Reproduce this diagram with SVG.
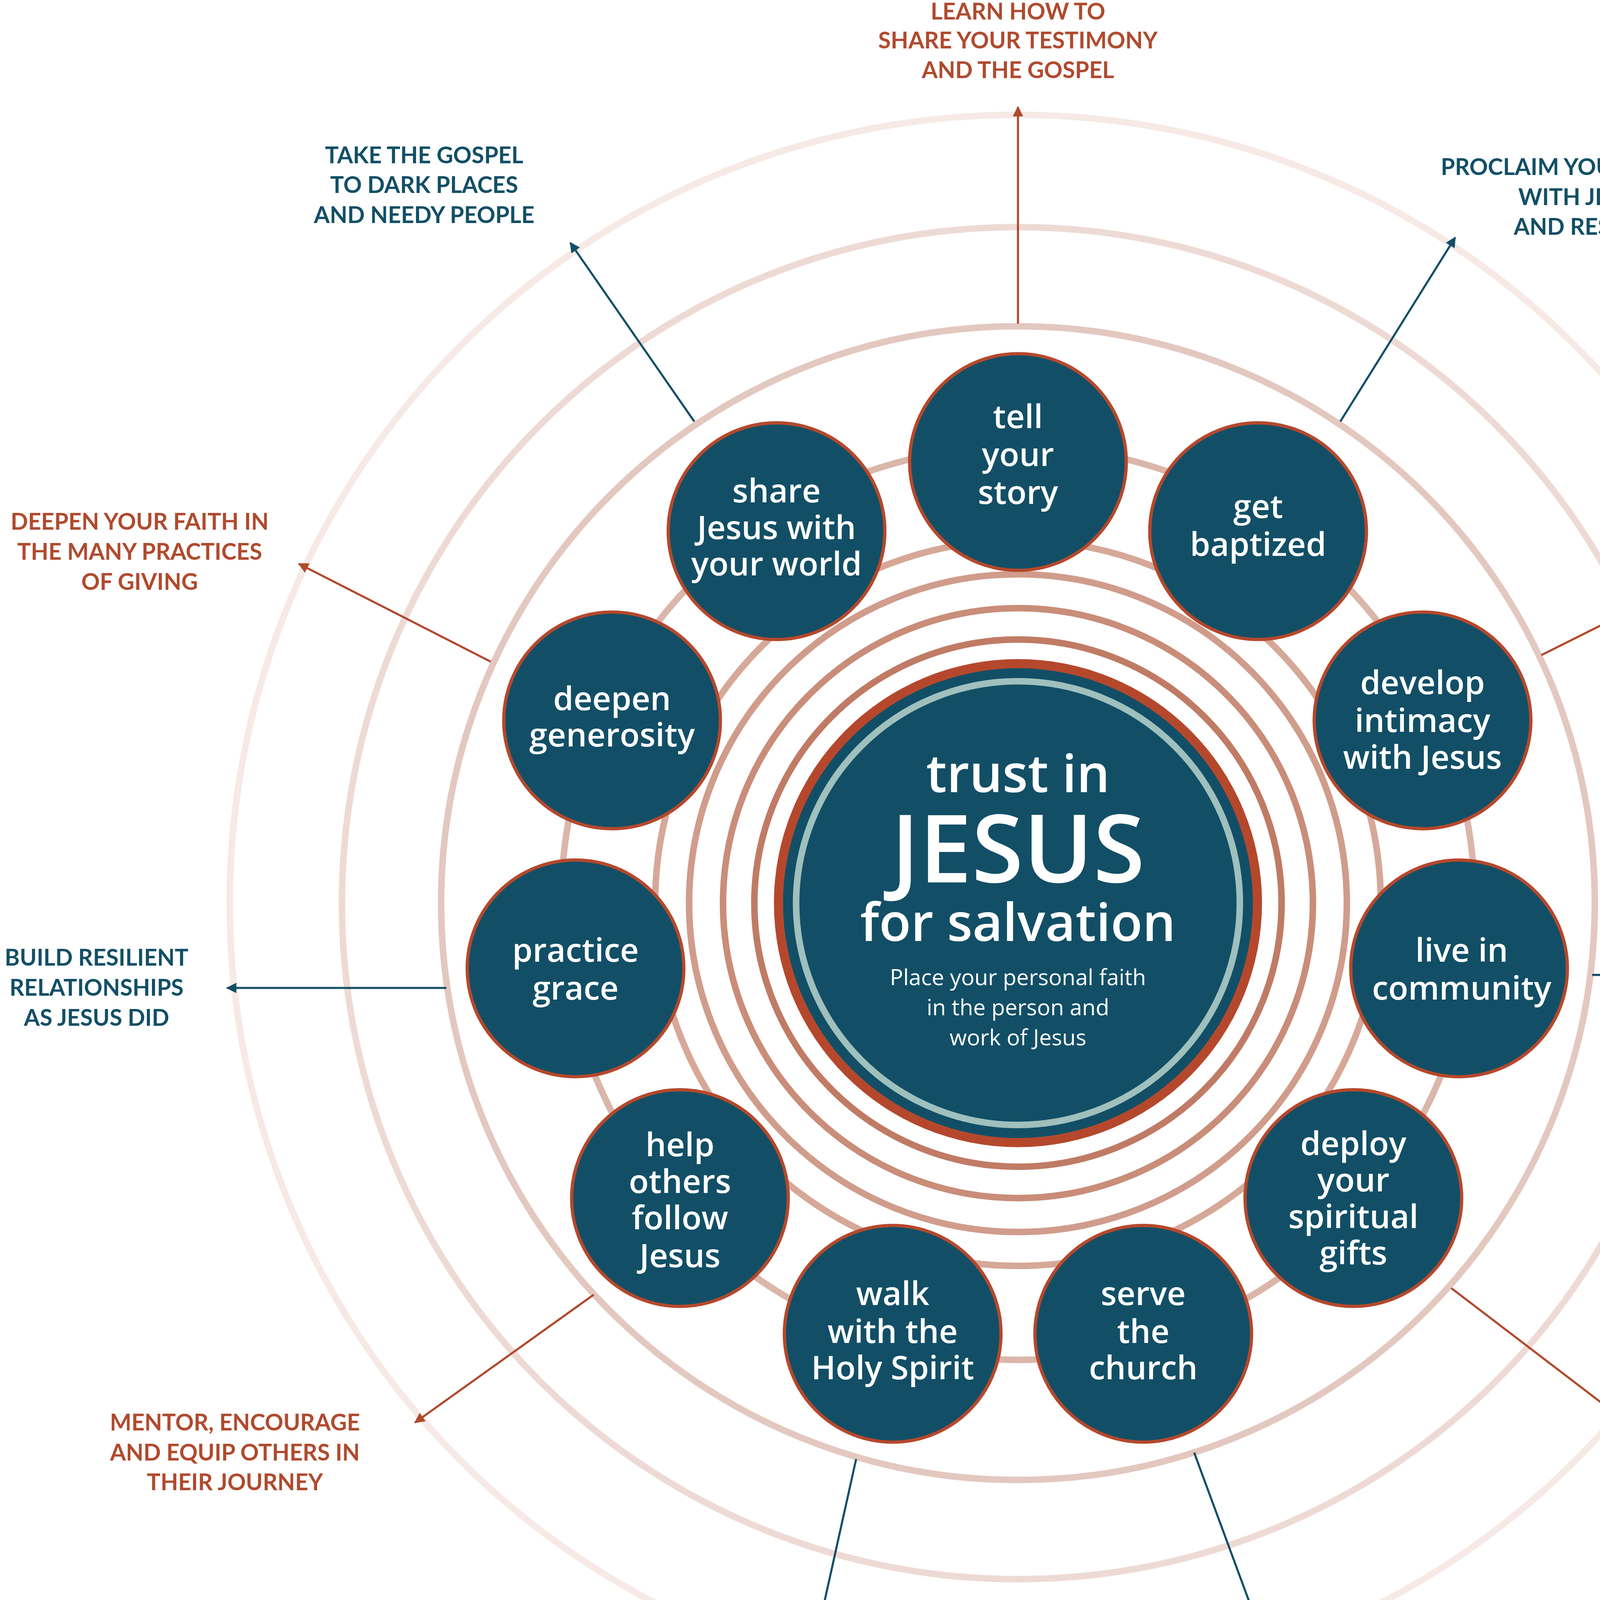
<svg xmlns="http://www.w3.org/2000/svg" width="5239" height="4628" viewBox="0 0 5239 4628">
<style>
.n{fill:#124f66;stroke:#b5482c;stroke-width:2.5}
.nt{font-family:"Open Sans",sans-serif;font-size:25px;font-weight:600;fill:#fff;text-anchor:middle}
.c1{font-size:40px}
.c2{font-size:72px}
.c3{font-size:17px;font-weight:400}
.lt{font-family:Lato,"Open Sans",sans-serif;font-size:17.5px;font-weight:700;text-anchor:middle}
.t{fill:#124f66}.r{fill:#b04a2e}
.ring{fill:none}
.at{stroke:#124f66;stroke-width:1.6;fill:none}
.ar{stroke:#b04a2e;stroke-width:1.6;fill:none}
</style>
<defs>
<marker id="mt" viewBox="0 0 10 10" refX="9" refY="5" markerWidth="8" markerHeight="8" markerUnits="userSpaceOnUse" orient="auto"><path d="M0,0 L10,5 L0,10 z" fill="#124f66"/></marker>
<marker id="mr" viewBox="0 0 10 10" refX="9" refY="5" markerWidth="8" markerHeight="8" markerUnits="userSpaceOnUse" orient="auto"><path d="M0,0 L10,5 L0,10 z" fill="#b04a2e"/></marker>
</defs>
<rect width="5239" height="4628" fill="#fff"/>
<g transform="scale(3.341)">
<g id="rings">
<circle class="ring" cx="780" cy="692" r="604" stroke="#f6e9e6" stroke-width="5"/>
<circle class="ring" cx="780" cy="692" r="518" stroke="#eedad5" stroke-width="5"/>
<circle class="ring" cx="780" cy="692" r="442" stroke="#e3c8c0" stroke-width="5"/>
<circle class="ring" cx="780" cy="692" r="350" stroke="#dbb6aa" stroke-width="5"/>
<circle class="ring" cx="780" cy="692" r="278" stroke="#d6a898" stroke-width="5"/>
<circle class="ring" cx="780" cy="692" r="252" stroke="#d09c8b" stroke-width="5"/>
<circle class="ring" cx="780" cy="692" r="226" stroke="#c98d79" stroke-width="5"/>
<circle class="ring" cx="780" cy="692" r="202" stroke="#c07b65" stroke-width="5"/>
</g>
<g id="center">
<circle cx="780" cy="692" r="187" fill="#b5482c"/>
<circle cx="780" cy="692" r="180" fill="#124f66"/>
<circle cx="780" cy="692" r="170" fill="none" stroke="#9fc0bd" stroke-width="5"/>
<text class="nt c1" x="780" y="607">trust in</text>
<text class="nt c2" x="780" y="676">JESUS</text>
<text class="nt c1" x="780" y="721">for salvation</text>
<text class="nt c3" x="780" y="755">Place your personal faith</text>
<text class="nt c3" x="780" y="778">in the person and</text>
<text class="nt c3" x="780" y="801">work of Jesus</text>
</g>
<g id="n1"><circle class="n" cx="780" cy="354" r="83"/><text class="nt" x="780" y="328">tell</text><text class="nt" x="780" y="357">your</text><text class="nt" x="780" y="386">story</text></g>
<g id="n2"><circle class="n" cx="964" cy="407" r="83"/><text class="nt" x="964" y="397">get</text><text class="nt" x="964" y="426">baptized</text></g>
<g id="n3"><circle class="n" cx="1090" cy="552" r="83"/><text class="nt" x="1090" y="532">develop</text><text class="nt" x="1090" y="561">intimacy</text><text class="nt" x="1090" y="589">with Jesus</text></g>
<g id="n4"><circle class="n" cx="1118" cy="742" r="83"/><text class="nt" x="1120" y="737">live in</text><text class="nt" x="1120" y="766">community</text></g>
<g id="n5"><circle class="n" cx="1037" cy="918" r="83"/><text class="nt" x="1037" y="885">deploy</text><text class="nt" x="1037" y="913">your</text><text class="nt" x="1037" y="941">spiritual</text><text class="nt" x="1037" y="969">gifts</text></g>
<g id="n6"><circle class="n" cx="876" cy="1022" r="83"/><text class="nt" x="876" y="1000">serve</text><text class="nt" x="876" y="1029">the</text><text class="nt" x="876" y="1057">church</text></g>
<g id="n7"><circle class="n" cx="684" cy="1022" r="83"/><text class="nt" x="684" y="1000">walk</text><text class="nt" x="684" y="1029">with the</text><text class="nt" x="684" y="1057">Holy Spirit</text></g>
<g id="n8"><circle class="n" cx="521" cy="918" r="83"/><text class="nt" x="521" y="886">help</text><text class="nt" x="521" y="914">others</text><text class="nt" x="521" y="942">follow</text><text class="nt" x="521" y="971">Jesus</text></g>
<g id="n9"><circle class="n" cx="441" cy="742" r="83"/><text class="nt" x="441" y="737">practice</text><text class="nt" x="441" y="766">grace</text></g>
<g id="n10"><circle class="n" cx="469" cy="552" r="83"/><text class="nt" x="469" y="544">deepen</text><text class="nt" x="469" y="572">generosity</text></g>
<g id="n11"><circle class="n" cx="595" cy="407" r="83"/><text class="nt" x="595" y="385">share</text><text class="nt" x="595" y="413">Jesus with</text><text class="nt" x="595" y="441">your world</text></g>
<g id="connectors">
<line class="ar" x1="780" y1="248" x2="780" y2="82" marker-end="url(#mr)"/>
<line class="at" x1="1027" y1="323" x2="1115" y2="182" marker-end="url(#mt)"/>
<line class="ar" x1="1181" y1="502" x2="1331" y2="427" marker-end="url(#mr)"/>
<line class="at" x1="1220" y1="747" x2="1387" y2="747" marker-end="url(#mt)"/>
<line class="ar" x1="1112" y1="987" x2="1243" y2="1087" marker-end="url(#mr)"/>
<line class="at" x1="915" y1="1113" x2="973" y2="1270" marker-end="url(#mt)"/>
<line class="at" x1="656" y1="1118" x2="620" y2="1280" marker-end="url(#mt)"/>
<line class="ar" x1="455" y1="992" x2="318" y2="1090" marker-end="url(#mr)"/>
<line class="at" x1="342" y1="757" x2="174" y2="757" marker-end="url(#mt)"/>
<line class="ar" x1="376" y1="507" x2="229" y2="432" marker-end="url(#mr)"/>
<line class="at" x1="532" y1="323" x2="437" y2="186" marker-end="url(#mt)"/>
</g>
<g id="labels">
<text class="lt r" x="780" y="15">LEARN HOW TO</text><text class="lt r" x="780" y="37">SHARE YOUR TESTIMONY</text><text class="lt r" x="780" y="60">AND THE GOSPEL</text>
<text class="lt t" x="1247" y="134">PROCLAIM YOUR IDENTIFICATION</text><text class="lt t" x="1247" y="157">WITH JESUS’ DEATH</text><text class="lt t" x="1247" y="180">AND RESURRECTION</text>
<text class="lt r" x="1440" y="394">EXPLORE THE MANY</text><text class="lt r" x="1440" y="417">DISCIPLINES AND</text><text class="lt r" x="1440" y="440">PRACTICES OF</text><text class="lt r" x="1440" y="463">NEARNESS</text>
<text class="lt t" x="1485" y="747">DO LIFE WITH</text><text class="lt t" x="1485" y="770">OTHER BELIEVERS</text>
<text class="lt r" x="1380" y="1108">DISCOVER AND DEVELOP</text><text class="lt r" x="1380" y="1131">THE SPIRIT’S UNIQUE GIFT</text><text class="lt r" x="1380" y="1154">OF GRACE AND POWER</text>
<text class="lt t" x="978" y="1339">FIND AND ENJOY</text><text class="lt t" x="978" y="1362">YOUR PLACE OF</text><text class="lt t" x="978" y="1385">SERVICE TO OTHERS</text>
<text class="lt t" x="618" y="1339">LEARN THE RHYTHMS</text><text class="lt t" x="618" y="1362">AND FREEDOM OF LIFE</text><text class="lt t" x="618" y="1385">IN THE HOLY SPIRIT</text>
<text class="lt r" x="180" y="1096">MENTOR, ENCOURAGE</text><text class="lt r" x="180" y="1119">AND EQUIP OTHERS IN</text><text class="lt r" x="180" y="1142">THEIR JOURNEY</text>
<text class="lt t" x="74" y="740">BUILD RESILIENT</text><text class="lt t" x="74" y="763">RELATIONSHIPS</text><text class="lt t" x="74" y="786">AS JESUS DID</text>
<text class="lt r" x="107" y="406">DEEPEN YOUR FAITH IN</text><text class="lt r" x="107" y="429">THE MANY PRACTICES</text><text class="lt r" x="107" y="452">OF GIVING</text>
<text class="lt t" x="325" y="125">TAKE THE GOSPEL</text><text class="lt t" x="325" y="148">TO DARK PLACES</text><text class="lt t" x="325" y="171">AND NEEDY PEOPLE</text>
</g>
</g>
</svg>
